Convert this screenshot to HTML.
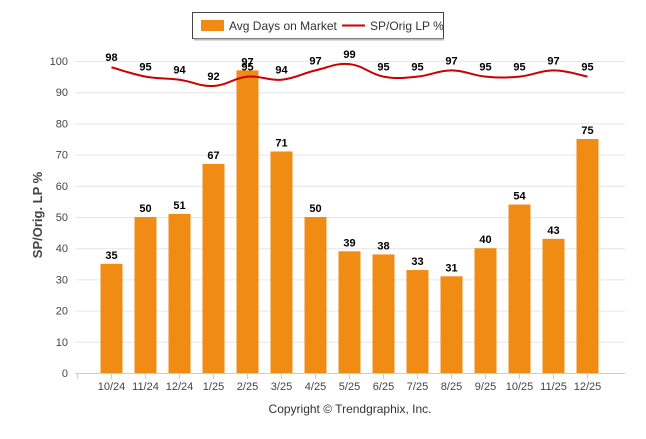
<!DOCTYPE html>
<html><head><meta charset="utf-8"><style>
body{margin:0;background:#fff;width:646px;height:434px;overflow:hidden;font-family:"Liberation Sans",sans-serif}
</style></head><body>
<svg id="chart" width="646" height="434" xmlns="http://www.w3.org/2000/svg" font-family="Liberation Sans, sans-serif">
<g>
<rect x="192.5" y="12.5" width="251" height="26" fill="#fff" stroke="#444" stroke-width="1"/>
<line x1="194" y1="39.5" x2="444" y2="39.5" stroke="#bbb" stroke-width="2"/>
<g><rect x="201" y="20" width="23" height="11" fill="#f08c14"/><text x="229" y="30" font-size="12" fill="#333">Avg Days on Market</text></g>
<g><line x1="342" y1="25.5" x2="365" y2="25.5" stroke="#cc0000" stroke-width="2"/><text x="370" y="30" font-size="12" fill="#333">SP/Orig LP %</text></g>
</g>
<text transform="translate(42,215) rotate(-90)" text-anchor="middle" font-size="13" font-weight="bold" fill="#444">SP/Orig. LP %</text>
<g id="grid"></g><g id="bars"></g><g id="line"></g><g id="labels"></g>
<text x="350" y="413" text-anchor="middle" font-size="12" fill="#333">Copyright © Trendgraphix, Inc.</text>
</svg>
<script>
const categories=["10/24","11/24","12/24","1/25","2/25","3/25","4/25","5/25","6/25","7/25","8/25","9/25","10/25","11/25","12/25"];
const daysOnMarket=[35,50,51,67,97,71,50,39,38,33,31,40,54,43,75];
const spOrigLp=[98,95,94,92,95,94,97,99,95,95,97,95,95,97,95];
const yTicks=[0,10,20,30,40,50,60,70,80,90,100];
const NS="http://www.w3.org/2000/svg";
const y0=373,yScale=3.12,xLeft=75,xRight=625;
const y=v=>y0-v*yScale;
const x=i=>111.5+i*34;
function mk(tag,attrs,parent){const e=document.createElementNS(NS,tag);for(const k in attrs)e.setAttribute(k,attrs[k]);document.getElementById(parent).appendChild(e);return e;}
yTicks.forEach(t=>{
 const l=mk("line",{x1:xLeft,x2:xRight,y1:y(t)+0.5,y2:y(t)+0.5,stroke:t===0?"#ccc":"#e6e6e6"},"grid");
 
 
 const tx=mk("text",{x:68,y:y(t)+4,"text-anchor":"end","font-size":"11",fill:"#444"},"grid");tx.textContent=t;
 
 
});
mk("line",{x1:77.5,x2:77.5,y1:y0,y2:y0+6,stroke:"#ccc"},"grid");
categories.forEach((c,i)=>{
 mk("line",{x1:x(i),x2:x(i),y1:y0,y2:y0+6,stroke:"#ccc"},"grid");
 const tx=mk("text",{x:x(i),y:390,"text-anchor":"middle","font-size":"11",fill:"#444"},"grid");tx.textContent=c;
 
 
 const b=mk("rect",{x:x(i)-11,y:y(daysOnMarket[i]),width:22,height:daysOnMarket[i]*yScale,fill:"#f08c14"},"bars");
 
 
 const bl=mk("text",{x:x(i),y:y(daysOnMarket[i])-5,"text-anchor":"middle","font-size":"11","font-weight":"bold",fill:"#000"},"labels");bl.textContent=daysOnMarket[i];
 
 
 const ll=mk("text",{x:x(i),y:y(spOrigLp[i])-6,"text-anchor":"middle","font-size":"11","font-weight":"bold",fill:"#000"},"labels");ll.textContent=spOrigLp[i];
 
 
});
let pts=spOrigLp.map((v,i)=>[x(i),y(v)]);
let d="M"+pts[0][0]+","+pts[0][1];
for(let i=0;i<pts.length-1;i++){
 const p0=pts[Math.max(i-1,0)],p1=pts[i],p2=pts[i+1],p3=pts[Math.min(i+2,pts.length-1)];
 const t=0.2;
 d+=` C${p1[0]+(p2[0]-p0[0])*t},${p1[1]+(p2[1]-p0[1])*t} ${p2[0]-(p3[0]-p1[0])*t},${p2[1]-(p3[1]-p1[1])*t} ${p2[0]},${p2[1]}`;
}
const path=mk("path",{d:d,fill:"none",stroke:"#cc0000","stroke-width":"2"},"line");


</script>
</body></html>
